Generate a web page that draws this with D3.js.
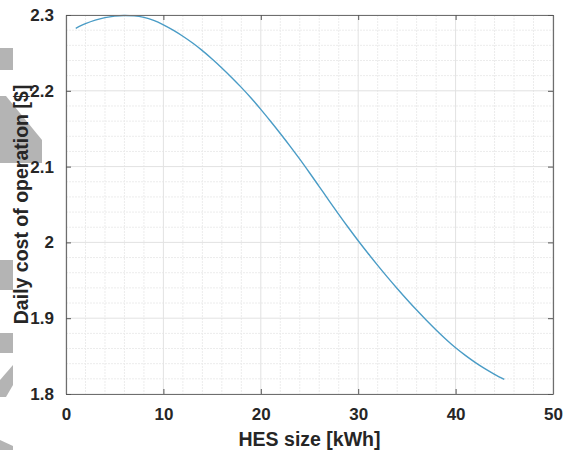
<!DOCTYPE html>
<html>
<head>
<meta charset="utf-8">
<script src="https://cdn.jsdelivr.net/npm/d3@7"></script>
<style>
  body { margin: 0; background: #fff; }
  svg { display: block; font-family: "Liberation Sans", Arial, sans-serif; }
</style>
</head>
<body>
<svg id="chart" width="564" height="450"></svg>
<script>
// HES size [kWh]
var hesSize = [1, 2, 3, 4, 5, 6, 7, 8, 9, 10, 11, 12, 13, 14, 15, 16, 17, 18, 19, 20, 21, 22, 23,
               24, 25, 26, 27, 28, 29, 30, 31, 32, 33, 34, 35, 36, 37, 38, 39, 40, 41, 42, 43, 44, 45];
// daily cost [$]
var dailyCost = [2.2825, 2.2885, 2.2932, 2.2965, 2.2985, 2.2993, 2.2988, 2.2968, 2.2928, 2.2870,
                 2.2800, 2.2720, 2.2630, 2.2530, 2.2420, 2.2302, 2.2177, 2.2045, 2.1905, 2.1755,
                 2.1598, 2.1437, 2.1271, 2.1098, 2.0919, 2.0736, 2.0552, 2.0370, 2.0193, 2.0022,
                 1.9857, 1.9697, 1.9542, 1.9392, 1.9247, 1.9107, 1.8973, 1.8845, 1.8723, 1.8610,
                 1.8510, 1.8418, 1.8335, 1.8260, 1.8192];

var xTicks = [0, 10, 20, 30, 40, 50];
var yTicks = [1.8, 1.9, 2.0, 2.1, 2.2, 2.3];

// plot box (window.top is read-only, so no "top" here)
var plotLeft = 66, plotRight = 553, plotTop = 15, plotBottom = 394;

var svg = d3.select("#chart");

// scan smudges along the left edge
var smudges = [
    [[0, 48], [13, 48], [13, 70], [0, 70]],
    [[0, 96], [6, 96], [42, 140], [42, 150], [0, 150]],
    [[0, 150], [42, 150], [42, 163], [0, 163]],
    [[0, 260], [13, 260], [13, 290], [0, 290]],
    [[0, 333], [13, 333], [13, 353], [0, 353]],
    [[0, 397], [0, 380], [13, 365], [13, 385], [6, 397]],
    [[0, 440], [13, 446], [13, 450], [0, 450]]
];
svg.selectAll("polygon.smudge")
    .data(smudges)
    .enter()
    .append("polygon")
    .attr("class", "smudge")
    .attr("points", function(d) { return d.map(function(p) { return p.join(","); }).join(" "); })
    .attr("fill", "#b4b4b4");

var x = d3.scaleLinear().domain([0, 50]).range([plotLeft, plotRight]);
var y = d3.scaleLinear().domain([1.8, 2.3]).range([plotBottom, plotTop]);

// minor grid
var g = svg.append("g");
g.selectAll("line.mx")
    .data(d3.range(0, 51, 2).filter(function(v) { return v % 10 !== 0; }))
    .enter().append("line")
    .attr("x1", function(d) { return x(d); }).attr("x2", function(d) { return x(d); })
    .attr("y1", plotTop).attr("y2", plotBottom)
    .attr("stroke", "#ececec").attr("stroke-dasharray", "2,1");
g.selectAll("line.my")
    .data(d3.range(90, 116).map(function(v) { return v / 50; }).filter(function(v, i) { return i % 5 !== 0; }))
    .enter().append("line")
    .attr("y1", function(d) { return y(d); }).attr("y2", function(d) { return y(d); })
    .attr("x1", plotLeft).attr("x2", plotRight)
    .attr("stroke", "#ececec").attr("stroke-dasharray", "2,1");

// major grid
g.selectAll("line.gx")
    .data(xTicks)
    .enter().append("line")
    .attr("x1", function(d) { return x(d); }).attr("x2", function(d) { return x(d); })
    .attr("y1", plotTop).attr("y2", plotBottom)
    .attr("stroke", "#e2e2e2");
g.selectAll("line.gy")
    .data(yTicks)
    .enter().append("line")
    .attr("y1", function(d) { return y(d); }).attr("y2", function(d) { return y(d); })
    .attr("x1", plotLeft).attr("x2", plotRight)
    .attr("stroke", "#e2e2e2");

// curve
var line = d3.line()
    .x(function(d, i) { return x(hesSize[i]); })
    .y(function(d) { return y(d); })
    .curve(d3.curveMonotoneX);

svg.append("path")
    .datum(dailyCost)
    .attr("d", line)
    .attr("fill", "none")
    .attr("stroke", "#4a9cc6")
    .attr("stroke-width", 1.4);

// axes, ticks pointing inward, box on all four sides
function styleAxis(sel) {
    sel.select(".domain").attr("stroke", "#6e6e6e").attr("stroke-width", 1.2);
    sel.selectAll(".tick line").attr("stroke", "#555");
    sel.selectAll(".tick text")
        .attr("fill", "#262626")
        .attr("font-size", "17px")
        .attr("font-weight", "bold")
        .attr("font-family", "Liberation Sans, Arial, sans-serif");
}

svg.append("g")
    .attr("transform", "translate(0," + plotBottom + ")")
    .call(d3.axisBottom(x).tickValues(xTicks).tickSizeInner(-5).tickSizeOuter(0).tickPadding(14)
        .tickFormat(d3.format("d")))
    .call(styleAxis);

svg.append("g")
    .attr("transform", "translate(0," + plotTop + ")")
    .call(d3.axisTop(x).tickValues(xTicks).tickSizeInner(-5).tickSizeOuter(0).tickFormat(""))
    .call(styleAxis);

svg.append("g")
    .attr("transform", "translate(" + plotLeft + ",0)")
    .call(d3.axisLeft(y).tickValues(yTicks).tickSizeInner(-5).tickSizeOuter(0).tickPadding(12)
        .tickFormat(function(d) { return String(+d.toFixed(1)); }))
    .call(styleAxis);

svg.append("g")
    .attr("transform", "translate(" + plotRight + ",0)")
    .call(d3.axisRight(y).tickValues(yTicks).tickSizeInner(-5).tickSizeOuter(0).tickFormat(""))
    .call(styleAxis);

// axis titles
svg.append("text")
    .attr("x", (plotLeft + plotRight) / 2)
    .attr("y", 446)
    .attr("text-anchor", "middle")
    .attr("font-size", "19.5px")
    .attr("font-weight", "bold")
    .attr("fill", "#262626")
    .text("HES size [kWh]");

svg.append("text")
    .attr("transform", "translate(28," + (plotTop + plotBottom) / 2 + ") rotate(-90)")
    .attr("text-anchor", "middle")
    .attr("font-size", "19.5px")
    .attr("font-weight", "bold")
    .attr("fill", "#262626")
    .text("Daily cost of operation [$]");
</script>
</body>
</html>
